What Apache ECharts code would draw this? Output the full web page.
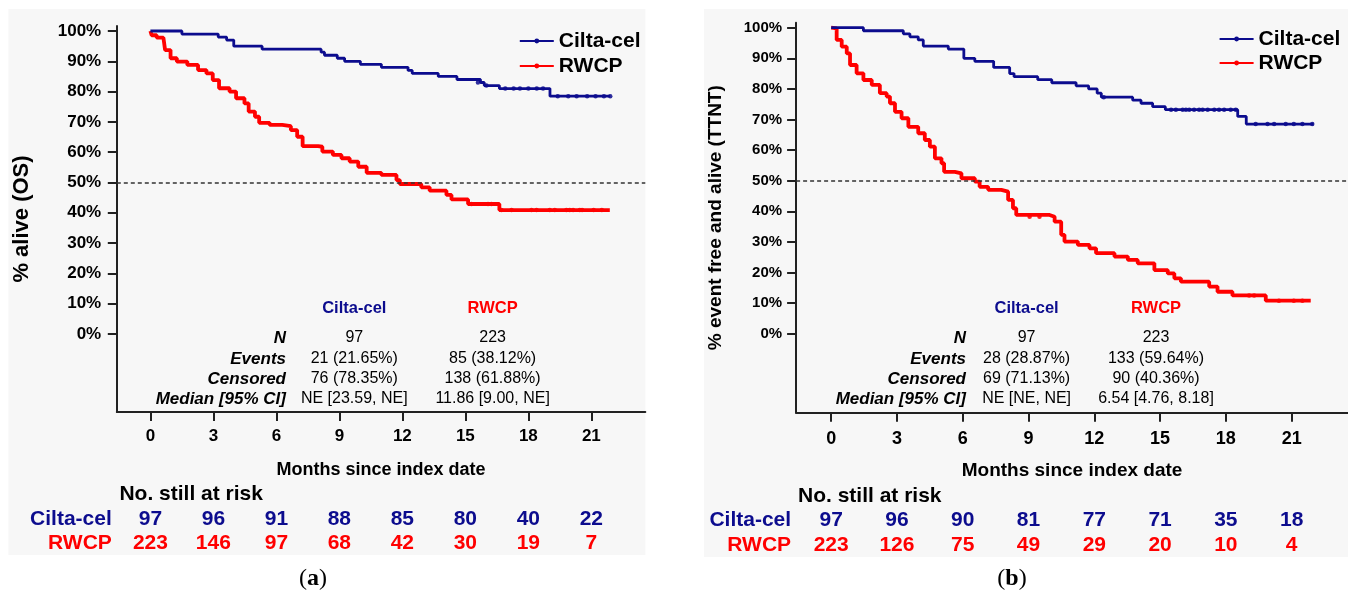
<!DOCTYPE html>
<html>
<head>
<meta charset="utf-8">
<script src="https://cdn.jsdelivr.net/npm/echarts@6/dist/echarts.min.js"></script>
<style>
html,body{margin:0;padding:0;background:#fff;}
#chart{width:1348px;height:592px;}
</style>
</head>
<body>
<div id="chart"></div>
<script>
// ---------- DATA ----------
const months = [0, 3, 6, 9, 12, 15, 18, 21];
const pctTicks = [0, 10, 20, 30, 40, 50, 60, 70, 80, 90, 100];
const seriesNames = ['Cilta-cel', 'RWCP'];

// (a) Overall survival, Kaplan-Meier steps [month, % alive]
const ciltaOS = [[0,100],[1.5,99],[3.23,98],[3.63,97],[3.97,95],[5.32,94],[8.13,93],[8.29,92],[8.9,91],[9.25,90],[10.0,89],[11.0,88],[12.27,87],[12.47,86],[13.71,85],[14.6,84],[15.72,83],[15.9,82],[16.62,81],[19.03,78.5],[21.9,78.5]];
const rwcpOS = [[0,100],[0.06,98.6],[0.3,97.8],[0.62,97.2],[0.7,93.7],[0.96,91],[1.26,89.9],[1.76,88.8],[2.27,87.1],[2.67,86],[2.97,83.8],[3.27,81.1],[3.77,80],[4.08,77.8],[4.48,76.1],[4.68,73.4],[4.98,71.7],[5.18,69.7],[5.68,69],[6.28,68.6],[6.69,67.3],[6.99,65.1],[7.25,62],[7.99,61.8],[8.19,60.2],[8.69,59.1],[9.1,58],[9.49,56.9],[9.9,55.2],[10.3,53.2],[11.0,52.5],[11.72,50.8],[11.88,49.5],[12.9,48.4],[13.3,47.3],[14.1,45.9],[14.34,44.4],[15.13,42.9],[16.62,40.9],[21.88,40.9]];
const ciltaOSCensor = [[15.6,83],[16.0,82],[16.9,81],[17.3,81],[17.6,81],[18.0,81],[18.4,81],[18.7,81],[19.4,78.5],[19.9,78.5],[20.3,78.5],[20.8,78.5],[21.2,78.5],[21.6,78.5],[21.9,78.5]];
const rwcpOSCensor = [[15.29,42.9],[16.08,42.9],[16.24,42.9],[16.72,40.9],[17.2,40.9],[18.15,40.9],[18.39,40.9],[19.02,40.9],[19.26,40.9],[19.81,40.9],[19.97,40.9],[20.13,40.9],[20.45,40.9],[20.56,40.9],[21.11,40.9],[21.5,40.9]];

// (b) Time to next treatment, [month, % event free and alive]
const ciltaTTNT = [[0,100],[1.47,99],[3.29,98],[3.59,97],[3.97,96],[4.2,94],[5.34,93],[6.05,90],[6.55,89],[7.41,87],[8.14,85],[8.34,84],[9.42,83],[10.06,82],[11.17,81],[11.74,80],[12.13,78.6],[12.32,77.3],[13.75,76.3],[14.13,75.3],[14.66,74.2],[15.24,73.2],[18.54,71],[18.93,68.5],[22.0,68.5]];
const rwcpTTNT = [[0,100],[0.06,99.8],[0.25,96],[0.48,93.8],[0.71,91.6],[0.86,87.8],[1.16,85.1],[1.47,82.9],[1.85,81.3],[2.22,78.6],[2.53,77.5],[2.68,75.3],[2.91,72.5],[3.21,70.4],[3.52,67.6],[3.97,65.5],[4.27,63.3],[4.5,61.1],[4.73,57.3],[5.03,55.7],[5.15,52.9],[5.64,52.4],[5.94,50.8],[6.55,49.7],[6.77,48],[7.16,47],[7.76,46.4],[8.07,43.7],[8.29,41],[8.44,38.8],[9.96,38.2],[10.19,36.6],[10.49,32.3],[10.64,30.1],[11.25,29],[11.78,27.9],[12.08,26.3],[12.92,25.2],[13.53,24.1],[13.98,23],[14.74,20.8],[15.35,19.7],[15.65,18.1],[15.95,17],[17.24,15.4],[17.62,13.7],[18.3,12.5],[19.82,10.8],[21.87,10.8]];
const ciltaTTNTCensor = [[12.43,77.3],[15.5,73.2],[15.72,73.2],[16.03,73.2],[16.18,73.2],[16.33,73.2],[16.55,73.2],[16.78,73.2],[16.94,73.2],[17.17,73.2],[17.47,73.2],[17.69,73.2],[17.92,73.2],[18.22,73.2],[18.45,73.2],[19.36,68.5],[19.9,68.5],[20.2,68.5],[20.73,68.5],[21.1,68.5],[21.49,68.5],[21.94,68.5]];
const rwcpTTNTCensor = [[9.05,38.2],[9.5,38.2],[19.06,12.5],[19.29,12.5],[20.42,10.8],[21.1,10.8],[21.49,10.8]];

// numbers at risk
const riskCiltaOS = [97, 96, 91, 88, 85, 80, 40, 22];
const riskRwcpOS = [223, 146, 97, 68, 42, 30, 19, 7];
const riskCiltaTTNT = [97, 96, 90, 81, 77, 71, 35, 18];
const riskRwcpTTNT = [223, 126, 75, 49, 29, 20, 10, 4];

// summary tables
const statRowLabels = ['N', 'Events', 'Censored', 'Median [95% CI]'];
const statsOSCilta = ['97', '21 (21.65%)', '76 (78.35%)', 'NE [23.59, NE]'];
const statsOSRwcp = ['223', '85 (38.12%)', '138 (61.88%)', '11.86 [9.00, NE]'];
const statsTTNTCilta = ['97', '28 (28.87%)', '69 (71.13%)', 'NE [NE, NE]'];
const statsTTNTRwcp = ['223', '133 (59.64%)', '90 (40.36%)', '6.54 [4.76, 8.18]'];

// texts
const yTitleA = '% alive (OS)';
const yTitleB = '% event free and alive (TTNT)';
const xTitle = 'Months since index date';
const riskTitle = 'No. still at risk';
const captions = ['a', 'b'];

// ---------- STYLE ----------
const FONT = '"Liberation Sans", Arial, Helvetica, sans-serif';
const SERIF = '"Liberation Serif", "DejaVu Serif", serif';
const BLUE = '#0c0c8e';
const RED = '#ff0000';
const AXIS = '#222';
const BG = '#f7f7f7';
const XMIN = -1.6, XMAX = 23.57;

const chart = echarts.init(document.getElementById('chart'), null, {renderer: 'canvas'});

function plotX(gi, fs, margin) {
  return {
    type: 'value', gridIndex: gi, min: XMIN, max: XMAX,
    name: xTitle, nameLocation: 'middle', nameGap: 49,
    nameTextStyle: {fontFamily: FONT, fontWeight: 'bold', fontSize: fs + 1, color: '#000'},
    axisLine: {show: true, onZero: false, lineStyle: {color: AXIS, width: 2}},
    axisTick: {show: true, inside: false, length: 9, lineStyle: {color: AXIS, width: 2}, customValues: months},
    axisLabel: {show: true, customValues: months, margin: margin, fontFamily: FONT, fontWeight: 'bold', fontSize: fs, color: '#000'},
    splitLine: {show: false}
  };
}
function plotY(gi, min, max, title, titleFs, gap, fs, margin) {
  return {
    type: 'value', gridIndex: gi, min: min, max: max,
    name: title, nameLocation: 'middle', nameGap: gap, nameRotate: 90,
    nameTextStyle: {fontFamily: FONT, fontWeight: 'bold', fontSize: titleFs, color: '#000'},
    axisLine: {show: true, onZero: false, lineStyle: {color: AXIS, width: 2}},
    axisTick: {show: true, inside: false, length: 9, lineStyle: {color: AXIS, width: 2}, customValues: pctTicks},
    axisLabel: {show: true, customValues: pctTicks, margin: margin, formatter: '{value}%', fontFamily: FONT, fontWeight: 'bold', fontSize: fs, color: '#000'},
    splitLine: {show: false}
  };
}
function riskX(gi) {
  return {type: 'value', gridIndex: gi, min: XMIN, max: XMAX, show: false, splitLine: {show: false}};
}
function riskY(gi) {
  return {
    type: 'category', gridIndex: gi, data: seriesNames, inverse: true,
    axisLine: {show: false}, axisTick: {show: false}, splitLine: {show: false},
    axisLabel: {show: true, interval: 0, hideOverlap: false, margin: 5, fontFamily: FONT, fontWeight: 'bold', fontSize: 21,
      color: function (v, i) { return v === seriesNames[0] ? BLUE : RED; }}
  };
}
function kmLine(name, data, gi, color, width, withMark) {
  const s = {
    type: 'line', name: name, xAxisIndex: gi, yAxisIndex: gi, data: data, step: 'end',
    showSymbol: false, symbol: 'circle', symbolSize: 4,
    lineStyle: {color: color, width: width}, itemStyle: {color: color},
    emphasis: {disabled: true}, silent: true, z: 3
  };
  if (withMark) {
    s.markLine = {
      silent: true, symbol: ['none', 'none'], label: {show: false},
      lineStyle: {type: [4, 3], color: '#333', width: 1.5},
      emphasis: {disabled: true},
      data: [{yAxis: 50}]
    };
  }
  return s;
}
function censor(data, gi, color) {
  return {
    type: 'scatter', name: 'censor', xAxisIndex: gi, yAxisIndex: gi, data: data,
    symbol: 'circle', symbolSize: 4.5, itemStyle: {color: color, opacity: 0.85},
    silent: true, z: 4
  };
}
function riskSeries(gi, values, row, color) {
  return {
    type: 'scatter', name: 'risk', xAxisIndex: gi, yAxisIndex: gi,
    data: months.map(function (m, i) { return [m, row, values[i]]; }),
    symbolSize: 0.1, itemStyle: {color: color, opacity: 1}, silent: true,
    emphasis: {disabled: true},
    label: {show: true, position: 'inside', opacity: 1, formatter: function (p) { return String(p.value[2]); },
      fontFamily: FONT, fontWeight: 'bold', fontSize: 21, color: color}
  };
}

// ---------- GRAPHICS (panels, tables, captions) ----------
const graphics = [];
graphics.push({type: 'rect', shape: {x: 8.4, y: 9, width: 637, height: 546}, style: {fill: BG}, z: -100, silent: true});
graphics.push({type: 'rect', shape: {x: 704, y: 9, width: 644, height: 548}, style: {fill: BG}, z: -100, silent: true});

function text(x, y, str, o) {
  return {
    type: 'text', x: x, y: y, silent: true, z: 10,
    style: {text: str, fill: o.color || '#000', fontFamily: FONT, fontSize: o.size || 16,
      fontWeight: o.weight || 'normal', fontStyle: o.style || 'normal',
      align: o.align || 'center', verticalAlign: 'middle'}
  };
}
const statRowsY = [338, 359, 379, 399];
function statsTable(labelRight, c1, c2, colA, colB) {
  graphics.push(text(c1, 308, seriesNames[0], {color: BLUE, weight: 'bold', size: 16.5}));
  graphics.push(text(c2, 308, seriesNames[1], {color: RED, weight: 'bold', size: 16.5}));
  statRowLabels.forEach(function (lab, i) {
    graphics.push(text(labelRight, statRowsY[i], lab, {weight: 'bold', style: 'italic', size: 17, align: 'right'}));
    graphics.push(text(c1, statRowsY[i], colA[i], {size: 16}));
    graphics.push(text(c2, statRowsY[i], colB[i], {size: 16}));
  });
}
statsTable(286, 354.3, 492.6, statsOSCilta, statsOSRwcp);
statsTable(966, 1026.6, 1156, statsTTNTCilta, statsTTNTRwcp);

graphics.push(text(119.4, 494, riskTitle, {weight: 'bold', size: 21, align: 'left'}));
graphics.push(text(798, 496, riskTitle, {weight: 'bold', size: 21, align: 'left'}));

function caption(x, letter) {
  return {
    type: 'text', x: x, y: 579, silent: true,
    style: {text: '{p|(}{b|' + letter + '}{p|)}', align: 'center', verticalAlign: 'middle', fill: '#000',
      rich: {p: {fontFamily: SERIF, fontSize: 24, fill: '#000'}, b: {fontFamily: SERIF, fontSize: 24, fontWeight: 'bold', fill: '#000'}}}
  };
}
graphics.push(caption(313, captions[0]));
graphics.push(caption(1012, captions[1]));

// ---------- OPTION ----------
const legendBase = {
  data: seriesNames, orient: 'vertical', itemWidth: 34, itemHeight: 6, padding: 0,
  selectedMode: false,
  textStyle: {fontFamily: FONT, fontWeight: 'bold', fontSize: 21, color: '#000'}
};

const option = {
  animation: false,
  backgroundColor: '#ffffff',
  textStyle: {fontFamily: FONT},
  grid: [
    {left: 116.8, top: 26, width: 528.5, height: 386, outerBoundsMode: 'none', containLabel: false},
    {left: 796.1, top: 22.7, width: 551.9, height: 390, outerBoundsMode: 'none', containLabel: false},
    {left: 116.8, top: 507, width: 528.5, height: 48, outerBoundsMode: 'none', containLabel: false},
    {left: 796.1, top: 507.5, width: 551.9, height: 50, outerBoundsMode: 'none', containLabel: false}
  ],
  xAxis: [plotX(0, 17, 16), plotX(1, 18, 17), riskX(2), riskX(3)],
  yAxis: [
    plotY(0, -25.74, 101.65, yTitleA, 22, 84, 17, 15.6),
    plotY(1, -25.82, 101.63, yTitleB, 19, 70.5, 15, 14),
    riskY(2), riskY(3)
  ],
  legend: [
    Object.assign({}, legendBase, {left: 518.8, top: 30.5, itemGap: 4}),
    Object.assign({}, legendBase, {left: 1218.6, top: 28.5, itemGap: 3})
  ],
  tooltip: {show: false},
  graphic: {elements: graphics},
  series: [
    kmLine(seriesNames[1], rwcpOS, 0, RED, 3.8, true),
    kmLine(seriesNames[0], ciltaOS, 0, BLUE, 2.8, false),
    censor(rwcpOSCensor, 0, RED),
    censor(ciltaOSCensor, 0, BLUE),
    kmLine(seriesNames[1], rwcpTTNT, 1, RED, 3.8, true),
    kmLine(seriesNames[0], ciltaTTNT, 1, BLUE, 2.8, false),
    censor(rwcpTTNTCensor, 1, RED),
    censor(ciltaTTNTCensor, 1, BLUE),
    riskSeries(2, riskCiltaOS, 0, BLUE),
    riskSeries(2, riskRwcpOS, 1, RED),
    riskSeries(3, riskCiltaTTNT, 0, BLUE),
    riskSeries(3, riskRwcpTTNT, 1, RED)
  ]
};
chart.setOption(option);
</script>
</body>
</html>
